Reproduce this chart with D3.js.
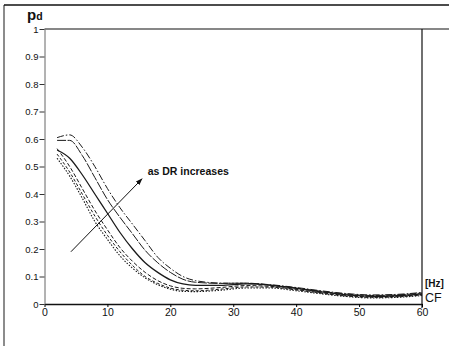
<!DOCTYPE html>
<html>
<head>
<meta charset="utf-8">
<script src="https://cdn.jsdelivr.net/npm/d3@7"></script>
<style>
  body { margin: 0; background: #fff; }
  svg { display: block; }
  text { font-family: Arial, "Liberation Sans", sans-serif; fill: #111; }
</style>
</head>
<body>
<svg width="449" height="346"></svg>
<script>
// size of the picture
var width = 449, height = 346;

// frequency samples (Hz)
var freq = [2, 4, 6, 8, 10, 12, 14, 16, 18, 20, 22, 24, 28, 32, 36, 40, 44, 48, 52, 56, 60];

// pd curves, top (largest DR) to bottom
var curveA = [0.605, 0.615, 0.57, 0.50, 0.42, 0.35, 0.29, 0.23, 0.17, 0.13, 0.10, 0.085, 0.076, 0.075, 0.07, 0.06, 0.048, 0.038, 0.033, 0.035, 0.042];
var curveB = [0.595, 0.595, 0.54, 0.46, 0.38, 0.315, 0.255, 0.195, 0.15, 0.115, 0.09, 0.079, 0.075, 0.076, 0.069, 0.058, 0.046, 0.036, 0.031, 0.033, 0.04];
var curveC = [0.56, 0.53, 0.47, 0.40, 0.33, 0.26, 0.20, 0.15, 0.115, 0.088, 0.073, 0.068, 0.068, 0.073, 0.068, 0.057, 0.044, 0.033, 0.028, 0.03, 0.037];
var curveD = [0.565, 0.50, 0.42, 0.34, 0.27, 0.205, 0.155, 0.115, 0.085, 0.066, 0.057, 0.055, 0.06, 0.067, 0.064, 0.053, 0.041, 0.031, 0.026, 0.028, 0.035];
var curveE = [0.545, 0.48, 0.40, 0.32, 0.25, 0.19, 0.14, 0.10, 0.075, 0.058, 0.05, 0.048, 0.054, 0.062, 0.061, 0.051, 0.039, 0.029, 0.024, 0.026, 0.033];
var curveF = [0.53, 0.465, 0.385, 0.30, 0.235, 0.175, 0.13, 0.095, 0.07, 0.054, 0.046, 0.045, 0.05, 0.058, 0.058, 0.048, 0.037, 0.027, 0.022, 0.024, 0.031];

var series = [curveA, curveB, curveC, curveD, curveE, curveF];
var dashes = ['7,2,1.5,2', '9,1.5', 'none', '4,2', '3,2', '1.5,1.5'];
var widths = [1, 1, 1.3, 1, 1, 1.1];

// tick labels
var xTicks = [0, 10, 20, 30, 40, 50, 60];
var yTicks = [0, 0.1, 0.2, 0.3, 0.4, 0.5, 0.6, 0.7, 0.8, 0.9, 1];
var yTickLabels = ['0', '0.1', '0.2', '0.3', '0.4', '0.5', '0.6', '0.7', '0.8', '0.9', '1'];

// annotation
var arrowFrom = [4.2, 0.19], arrowTo = [15.5, 0.455];
var noteAt = [16.4, 0.468];

var svg = d3.select('svg');

var x = d3.scaleLinear().domain([0, 60]).range([44.5, 422]);
var y = d3.scaleLinear().domain([0, 1]).range([304, 29]);

// outer frame of the scanned figure
svg.append('line').attr('x1', 4).attr('y1', 5).attr('x2', 4).attr('y2', height)
  .attr('stroke', '#666').attr('stroke-width', 1.5);
svg.append('line').attr('x1', 4).attr('y1', 5).attr('x2', width).attr('y2', 5)
  .attr('stroke', '#111').attr('stroke-width', 1.5);

// plot frame: top line runs out to the right edge
svg.append('line').attr('x1', x(0)).attr('y1', y(1)).attr('x2', width).attr('y2', y(1))
  .attr('stroke', '#111').attr('stroke-width', 1.2);
svg.append('line').attr('x1', x(60)).attr('y1', y(1)).attr('x2', x(60)).attr('y2', y(0) + 4)
  .attr('stroke', '#111').attr('stroke-width', 1.2);

// axes
var xAxis = d3.axisBottom(x).tickValues(xTicks).tickSize(3).tickSizeOuter(0).tickPadding(2);
var yAxis = d3.axisLeft(y).tickValues(yTicks).tickSize(5).tickSizeOuter(0).tickPadding(1)
  .tickFormat(function(d, i) { return yTickLabels[i]; });

var gx = svg.append('g').attr('transform', 'translate(0,' + y(0) + ')').call(xAxis);
gx.select('.domain').attr('stroke', '#111').attr('stroke-width', 1.3);
gx.selectAll('text').attr('font-size', 10.5).attr('fill', '#111');

var gy = svg.append('g').attr('transform', 'translate(' + x(0) + ',0)').call(yAxis);
gy.select('.domain').attr('stroke', '#666').attr('stroke-width', 1);
gy.selectAll('text').attr('font-size', 9.5).attr('fill', '#111');
gy.selectAll('line').attr('stroke', '#333');

// curves
var line = d3.line()
  .x(function(d, i) { return x(freq[i]); })
  .y(function(d) { return y(d); })
  .curve(d3.curveMonotoneX);

svg.append('g').selectAll('path')
  .data(series)
  .enter()
  .append('path')
  .attr('d', line)
  .attr('fill', 'none')
  .attr('stroke', '#1a1a1a')
  .attr('stroke-width', function(d, i) { return widths[i]; })
  .attr('stroke-dasharray', function(d, i) { return dashes[i]; });

// arrow and note
svg.append('defs').append('marker')
  .attr('id', 'head').attr('viewBox', '0 0 10 10')
  .attr('refX', 9).attr('refY', 5)
  .attr('markerWidth', 7).attr('markerHeight', 7)
  .attr('orient', 'auto')
  .append('path').attr('d', 'M0,1.5 L10,5 L0,8.5 Z').attr('fill', '#111');

svg.append('line')
  .attr('x1', x(arrowFrom[0])).attr('y1', y(arrowFrom[1]))
  .attr('x2', x(arrowTo[0])).attr('y2', y(arrowTo[1]))
  .attr('stroke', '#111').attr('stroke-width', 1)
  .attr('marker-end', 'url(#head)');

svg.append('text')
  .attr('x', x(noteAt[0])).attr('y', y(noteAt[1]))
  .attr('font-size', 10.5).attr('font-weight', 'bold')
  .text('as DR increases');

// axis titles
var pd = svg.append('text').attr('x', 27).attr('y', 20).attr('font-weight', 'bold');
pd.append('tspan').attr('font-size', 15).text('p');
pd.append('tspan').attr('font-size', 10.5).attr('dy', 0).text('d');

svg.append('text').attr('x', 425).attr('y', 287)
  .attr('font-size', 10).attr('font-weight', 'bold').text('[Hz]');
svg.append('text').attr('x', 425).attr('y', 302)
  .attr('font-size', 12.5).text('CF');
</script>
</body>
</html>
